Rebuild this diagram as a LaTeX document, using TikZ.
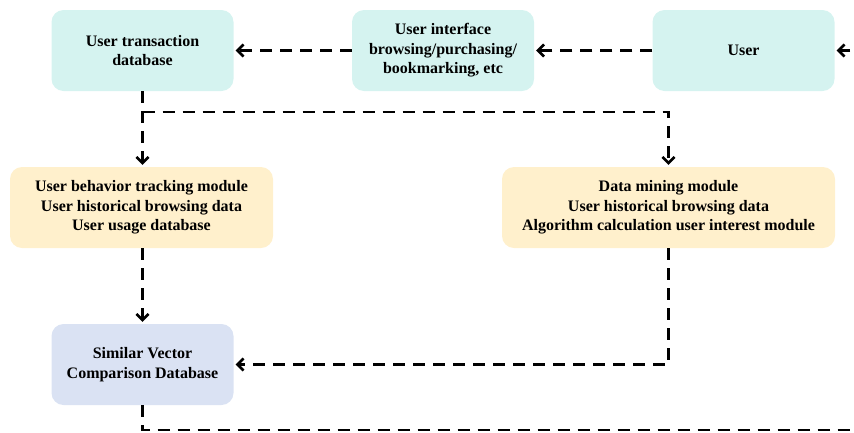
\documentclass[tikz,border=0pt]{standalone}
\usepackage{fontspec}
\setmainfont{Liberation Serif}
\usetikzlibrary{arrows.meta}

\definecolor{boxcyan}{HTML}{D5F3F0}
\definecolor{boxyellow}{HTML}{FFF0CC}
\definecolor{boxblue}{HTML}{DAE2F3}

\begin{document}
\begin{tikzpicture}[
                x=1pt, y=-1pt,
                box/.style={rectangle, rounded corners=12pt, minimum height=81pt,
                        align=center, inner sep=2pt,
                        font=\bfseries\fontsize{16}{19.5}\selectfont},
                topbox/.style={box, fill=boxcyan, minimum width=182pt},
                modbox/.style={box, fill=boxyellow},
                vecbox/.style={box, fill=boxblue, minimum width=182pt},
                link/.style={draw, line width=2.6pt, dash pattern=on 12pt off 8pt},
                flow/.style={link, shorten >=2pt, -{Straight Barb[length=6pt,width=12pt]}}
            ]
            \useasboundingbox (0,0) rectangle (854,432);

            % top row
            \node[topbox] (trans) at (142.5,50.5) {User transaction\\database};
            \node[topbox] (ui) at (443,50.5) {User interface\\browsing/purchasing/\\bookmarking, etc};
            \node[topbox] (user) at (743.5,50.5) {User};

            % modules
            \node[modbox, minimum width=263pt] (track) at (141.5,207.5)
                {User behavior tracking module\\User historical browsing data\\User usage database};
            \node[modbox, minimum width=333pt] (mining) at (668.5,207.5)
                {Data mining module\\User historical browsing data\\Algorithm calculation user interest module};

            % comparison
            \node[vecbox] (vector) at (142.5,364.5) {Similar Vector\\Comparison Database};

            \coordinate (in) at (870,50.5);
            \coordinate (split) at (142.5,112);
            \coordinate (out) at (870,430);

            \draw[flow] (in) -- (user);
            \draw[flow] (user) -- (ui);
            \draw[flow] (ui) -- (trans);
            \draw[flow] (trans) -- (trans |- track.north);
            \draw[flow] (split) -| (mining);
            \draw[flow] (track.south -| vector) -- (vector);
            \draw[flow] (mining) |- (vector);
            \draw[link] (vector) |- (out);

        \end{tikzpicture}
\end{document}
